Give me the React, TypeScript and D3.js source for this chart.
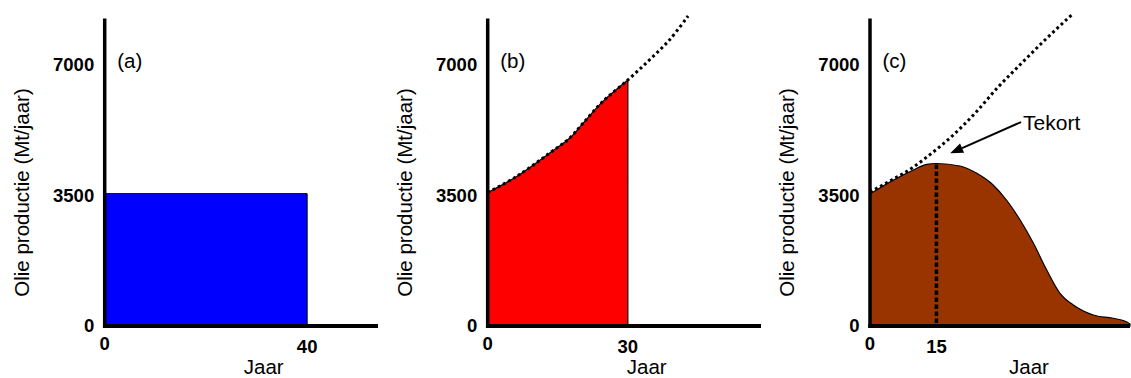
import React from "react";
import * as d3 from "d3";

// ---------- data ----------
const yTicks = [0, 3500, 7000];
const yTop = 8250;

const panelLetters = ["(a)", "(b)", "(c)"];
const xTitle = "Jaar";
const yTitle = "Olie productie (Mt/jaar)";

// panel (a)
const xTicksA = [0, 40];
const xMaxA = 54;
const barYearsA = [0, 40];
const barValuesA = [3550, 3550];

// panel (b)
const xTicksB = [0, 30];
const xMaxB = 58.5;
const demandYearsB = [0, 6.1, 13.2, 17.5, 20.4, 24.6, 30, 34.6, 38.9, 42.9];
const demandValuesB = [3580, 4004, 4632, 5034, 5436, 6016, 6598, 7134, 7671, 8314];
const productionYearsB = [0, 6.1, 13.2, 17.5, 20.4, 24.6, 30];
const productionValuesB = [3580, 4004, 4632, 5034, 5436, 6016, 6598];

// panel (c)
const xTicksC = [0, 15];
const xMaxC = 58.7;
const productionYearsC = [0, 5.3, 9.8, 12.8, 15, 20.3, 24.1, 27.8, 30.9, 33.9, 36.9, 39.9, 42.9, 45.9, 50.4, 54.9, 57.9, 58.7];
const productionValuesC = [3540, 3916, 4184, 4337, 4358, 4291, 4095, 3782, 3366, 2843, 2218, 1502, 877, 563, 295, 207, 115, 54];
const demandYearsC = [0, 4.9, 9.4, 13.9, 18.4, 23.7, 29, 34.2, 39.5, 45.5];
const demandValuesC = [3594, 3916, 4230, 4632, 5077, 5705, 6418, 7046, 7671, 8341];
const peakYearC = 15;
const annotationText = "Tekort";
const arrowFromC = [34.1, 5470];
const arrowToC = [18.1, 4630];

// ---------- layout ----------
const W = 1131;
const H = 378;
const FONT = "'Liberation Sans', Arial, Helvetica, sans-serif";
const yScale = d3.scaleLinear().domain([0, 7000]).range([326, 65]);

type PanelProps = {
  axisX: number;
  xEnd: number;
  xMax: number;
  xTicks: number[];
  letter: string;
  children?: (x: d3.ScaleLinear<number, number>) => React.ReactNode;
  overlay?: (x: d3.ScaleLinear<number, number>) => React.ReactNode;
};

function Panel({ axisX, xEnd, xMax, xTicks, letter, children, overlay }: PanelProps) {
  const x = d3.scaleLinear().domain([0, xMax]).range([axisX, xEnd]);
  const y0 = yScale(0);
  return (
    <g>
      {children && children(x)}
      <line x1={axisX} x2={axisX} y1={y0 + 2} y2={yScale(yTop)} stroke="#000" strokeWidth={3.5} />
      <line x1={axisX - 1.75} x2={xEnd} y1={y0} y2={y0} stroke="#000" strokeWidth={4} />
      {overlay && overlay(x)}
      {yTicks.map((t) => (
        <text
          key={"y" + t}
          x={axisX - 10.5}
          y={yScale(t) + 6.4}
          textAnchor="end"
          fontFamily={FONT}
          fontWeight="bold"
          fontSize={18.5}
          fill="#000"
        >
          {t}
        </text>
      ))}
      {xTicks.map((t, i) => (
        <text
          key={"x" + t}
          x={x(t)}
          y={350 + i * 3}
          textAnchor="middle"
          fontFamily={FONT}
          fontWeight="bold"
          fontSize={18.5}
          fill="#000"
        >
          {t}
        </text>
      ))}
      <text x={axisX + 159} y={374} textAnchor="middle" fontFamily={FONT} fontSize={20.5} fill="#000">
        {xTitle}
      </text>
      <text
        transform={`translate(${axisX - 76},192.5) rotate(-90)`}
        textAnchor="middle"
        fontFamily={FONT}
        fontSize={20.5}
        fill="#000"
      >
        {yTitle}
      </text>
      <text x={axisX + 12.5} y={67.5} fontFamily={FONT} fontSize={20.5} fill="#000">
        {letter}
      </text>
    </g>
  );
}

function zip(xs: number[], vs: number[]): [number, number][] {
  return xs.map((d, i) => [d, vs[i]]);
}

export default function App() {
  const curveB = d3.curveCatmullRom.alpha(0.5);
  const curveC = d3.curveMonotoneX;
  const dotted = { stroke: "#000", strokeWidth: 3, strokeDasharray: "2.8,3", fill: "none" };

  return (
    <svg width={W} height={H} style={{ position: "absolute", left: 0, top: 0, background: "#fff" }}>
      {/* Panel (a) */}
      <Panel axisX={104.7} xEnd={378} xMax={xMaxA} xTicks={xTicksA} letter={panelLetters[0]}>
        {(x) => {
          const area = d3
            .area<[number, number]>()
            .x((d) => x(d[0]))
            .y0(yScale(0))
            .y1((d) => yScale(d[1]))
            .curve(d3.curveLinear);
          return (
            <path d={area(zip(barYearsA, barValuesA)) || ""} fill="#0000FF" stroke="#000" strokeWidth={1} />
          );
        }}
      </Panel>

      {/* Panel (b) */}
      <Panel
        axisX={487.7}
        xEnd={761}
        xMax={xMaxB}
        xTicks={xTicksB}
        letter={panelLetters[1]}
        overlay={(x) => {
          const line = d3
            .line<[number, number]>()
            .x((d) => x(d[0]))
            .y((d) => yScale(d[1]))
            .curve(curveB);
          return <path d={line(zip(demandYearsB, demandValuesB)) || ""} {...dotted} />;
        }}
      >
        {(x) => {
          const area = d3
            .area<[number, number]>()
            .x((d) => x(d[0]))
            .y0(yScale(0))
            .y1((d) => yScale(d[1]))
            .curve(curveB);
          return (
            <path
              d={area(zip(productionYearsB, productionValuesB)) || ""}
              fill="#FF0000"
              stroke="#000"
              strokeWidth={1.2}
            />
          );
        }}
      </Panel>

      {/* Panel (c) */}
      <Panel
        axisX={870}
        xEnd={1130}
        xMax={xMaxC}
        xTicks={xTicksC}
        letter={panelLetters[2]}
        overlay={(x) => {
          const line = d3
            .line<[number, number]>()
            .x((d) => x(d[0]))
            .y((d) => yScale(d[1]))
            .curve(curveC);
          const peakIdx = productionYearsC.indexOf(peakYearC);
          const peakVal = productionValuesC[peakIdx];
          const tx = x(arrowToC[0]);
          const ty = yScale(arrowToC[1]);
          const fx = x(arrowFromC[0]);
          const fy = yScale(arrowFromC[1]);
          const dx = tx - fx;
          const dy = ty - fy;
          const len = Math.hypot(dx, dy);
          const ux = dx / len;
          const uy = dy / len;
          const headL = 13;
          const headW = 5;
          const bx = tx - ux * headL;
          const by = ty - uy * headL;
          const head = `M${tx},${ty}L${bx - uy * headW},${by + ux * headW}L${bx + uy * headW},${by - ux * headW}Z`;
          return (
            <g>
              <line
                x1={x(peakYearC)}
                x2={x(peakYearC)}
                y1={yScale(peakVal) + 1}
                y2={yScale(0)}
                stroke="#000"
                strokeWidth={3.5}
                strokeDasharray="4.5,2.5"
              />
              <path d={line(zip(demandYearsC, demandValuesC)) || ""} {...dotted} />
              <line x1={fx} y1={fy} x2={bx} y2={by} stroke="#000" strokeWidth={2} />
              <path d={head} fill="#000" />
              <text x={fx + 2} y={fy + 8} fontFamily={FONT} fontSize={21} fill="#000">
                {annotationText}
              </text>
            </g>
          );
        }}
      >
        {(x) => {
          const area = d3
            .area<[number, number]>()
            .x((d) => x(d[0]))
            .y0(yScale(0))
            .y1((d) => yScale(d[1]))
            .curve(curveC);
          return (
            <path
              d={area(zip(productionYearsC, productionValuesC)) || ""}
              fill="#993300"
              stroke="#000"
              strokeWidth={1.2}
            />
          );
        }}
      </Panel>
    </svg>
  );
}
